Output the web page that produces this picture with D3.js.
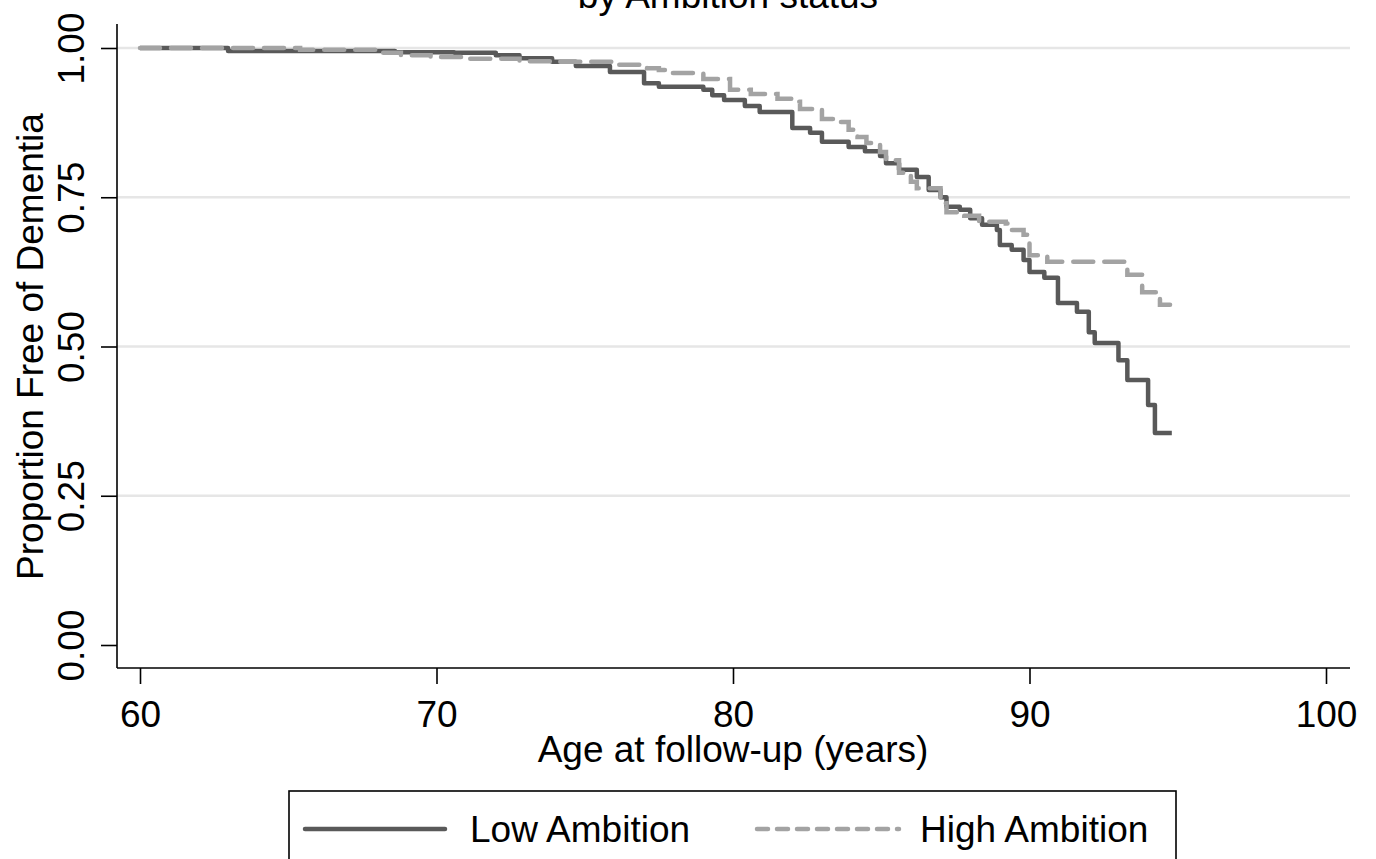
<!DOCTYPE html>
<meta charset="utf-8">
<style>
body { margin: 0; background: #fff; }
svg text { font-family: 'Liberation Sans', Arial, sans-serif; fill: #000; }
.grid line { stroke: #e6e6e6; stroke-width: 2.5; }
.axis path, .axis line { stroke: #000; stroke-width: 1.6; }
</style>
<body>
<div id="chart"></div>
<script src="https://cdn.jsdelivr.net/npm/d3@7"></script>
<script>
// Kaplan-Meier step points
const lowAge  = [60.0, 62.97, 68.6, 70.6, 72.0, 72.8, 73.9, 74.7, 75.85, 77.0, 77.5, 79.0, 79.3, 79.7, 80.4, 80.9, 82.0, 82.6, 83.0, 83.9, 84.45, 84.96, 85.16, 85.6, 86.2, 86.6, 87.0, 87.2, 87.65, 88.0, 88.4, 88.9, 89.0, 89.4, 89.8, 90.0, 90.5, 90.96, 91.6, 92.0, 92.2, 93.0, 93.3, 94.0, 94.23, 94.8];
const lowSurv = [1.000, 0.995, 0.993, 0.992, 0.988, 0.983, 0.977, 0.970, 0.960, 0.941, 0.935, 0.930, 0.921, 0.913, 0.903, 0.893, 0.866, 0.858, 0.843, 0.834, 0.827, 0.819, 0.807, 0.796, 0.784, 0.762, 0.750, 0.734, 0.729, 0.715, 0.704, 0.695, 0.670, 0.662, 0.645, 0.625, 0.615, 0.573, 0.558, 0.524, 0.506, 0.477, 0.444, 0.402, 0.355, 0.355];

const highAge  = [60.0, 65.4, 68.0, 68.8, 69.8, 71.1, 72.8, 73.9, 76.0, 77.1, 77.5, 77.9, 79.0, 79.9, 80.6, 81.5, 82.0, 82.26, 83.0, 83.6, 83.9, 84.2, 84.5, 84.96, 85.16, 85.6, 86.0, 86.2, 87.0, 87.2, 87.8, 88.3, 89.2, 89.3, 89.8, 90.0, 90.6, 93.3, 93.8, 94.4, 94.74];
const highSurv = [1.000, 0.997, 0.992, 0.988, 0.985, 0.982, 0.978, 0.977, 0.972, 0.966, 0.963, 0.958, 0.948, 0.930, 0.923, 0.915, 0.910, 0.898, 0.881, 0.876, 0.863, 0.851, 0.841, 0.826, 0.812, 0.791, 0.776, 0.765, 0.740, 0.725, 0.719, 0.709, 0.706, 0.695, 0.687, 0.653, 0.642, 0.620, 0.591, 0.570, 0.570];

const xTicks = [60, 70, 80, 90, 100];
const yTicks = [0, 0.25, 0.5, 0.75, 1];
const yTickLabels = ["0.00", "0.25", "0.50", "0.75", "1.00"];
const seriesNames = ["Low Ambition", "High Ambition"];

const W = 1376, H = 859;
const fs = 37;

const svg = d3.select("#chart").append("svg")
    .attr("width", W)
    .attr("height", H);

const x = d3.scaleLinear().domain([60, 100]).range([140, 1326]);
const y = d3.scaleLinear().domain([0, 1]).range([645, 48]);

const plotLeft = 117, plotRight = 1350, plotBottom = 668, plotTop = 24;

// title (first line sits above the page)
svg.append("text")
    .attr("x", 728).attr("y", 8)
    .attr("text-anchor", "middle")
    .style("font-size", fs + "px")
    .text("by Ambition status");

// grid
svg.append("g").attr("class", "grid")
  .selectAll("line")
  .data(yTicks.filter(d => d > 0))
  .enter().append("line")
    .attr("x1", plotLeft).attr("x2", plotRight)
    .attr("y1", d => y(d)).attr("y2", d => y(d));

// y axis
const yAxis = svg.append("g")
    .attr("class", "axis")
    .attr("transform", "translate(" + plotLeft + ",0)")
    .call(d3.axisLeft(y).tickValues(yTicks).tickSize(16).tickSizeOuter(0).tickFormat((d, i) => yTickLabels[i]));
yAxis.select(".domain").attr("d", "M0," + plotTop + "V" + plotBottom);
yAxis.selectAll(".tick text")
    .attr("x", null).attr("dy", null)
    .attr("transform", "translate(-33,0) rotate(-90)")
    .attr("text-anchor", "middle")
    .style("font-size", fs + "px")
    .style("font-family", "'Liberation Sans', Arial, sans-serif");

// x axis
const xAxis = svg.append("g")
    .attr("class", "axis")
    .attr("transform", "translate(0," + plotBottom + ")")
    .call(d3.axisBottom(x).tickValues(xTicks).tickSize(16).tickSizeOuter(0));
xAxis.select(".domain").attr("d", "M" + plotLeft + ",0H" + plotRight);
xAxis.selectAll(".tick text")
    .attr("y", 59).attr("dy", null)
    .style("font-size", fs + "px")
    .style("font-family", "'Liberation Sans', Arial, sans-serif");

// axis titles
svg.append("text")
    .attr("x", 733).attr("y", 762)
    .attr("text-anchor", "middle")
    .style("font-size", fs + "px")
    .text("Age at follow-up (years)");

svg.append("text")
    .attr("transform", "translate(43," + y(0.5) + ") rotate(-90)")
    .attr("text-anchor", "middle")
    .style("font-size", fs + "px")
    .text("Proportion Free of Dementia");

// curves
const line = d3.line()
    .x(d => x(d[0]))
    .y(d => y(d[1]))
    .curve(d3.curveStepAfter);

const lowData = lowAge.map((a, i) => [a, lowSurv[i]]);
const highData = highAge.map((a, i) => [a, highSurv[i]]);

svg.append("path")
    .datum(lowData)
    .attr("d", line)
    .attr("fill", "none")
    .attr("stroke", "#595959")
    .attr("stroke-width", 4.5)
    .attr("stroke-linejoin", "round");

svg.append("path")
    .datum(highData)
    .attr("d", line)
    .attr("fill", "none")
    .attr("stroke", "#a3a3a3")
    .attr("stroke-width", 4.5)
    .attr("stroke-linecap", "round")
    .attr("stroke-dasharray", "20,11");

// legend
const legend = svg.append("g");
legend.append("rect")
    .attr("x", 289).attr("y", 791)
    .attr("width", 887).attr("height", 90)
    .attr("fill", "#fff")
    .attr("stroke", "#000")
    .attr("stroke-width", 1.6);

legend.append("line")
    .attr("x1", 305).attr("x2", 445)
    .attr("y1", 829).attr("y2", 829)
    .attr("stroke", "#595959")
    .attr("stroke-width", 4.5)
    .attr("stroke-linecap", "round");
legend.append("text")
    .attr("x", 470).attr("y", 842)
    .style("font-size", fs + "px")
    .text(seriesNames[0]);

legend.append("line")
    .attr("x1", 757).attr("x2", 899)
    .attr("y1", 829).attr("y2", 829)
    .attr("stroke", "#a3a3a3")
    .attr("stroke-width", 4.5)
    .attr("stroke-linecap", "round")
    .attr("stroke-dasharray", "11,9");
legend.append("text")
    .attr("x", 920).attr("y", 842)
    .style("font-size", fs + "px")
    .text(seriesNames[1]);
</script>
</body>
